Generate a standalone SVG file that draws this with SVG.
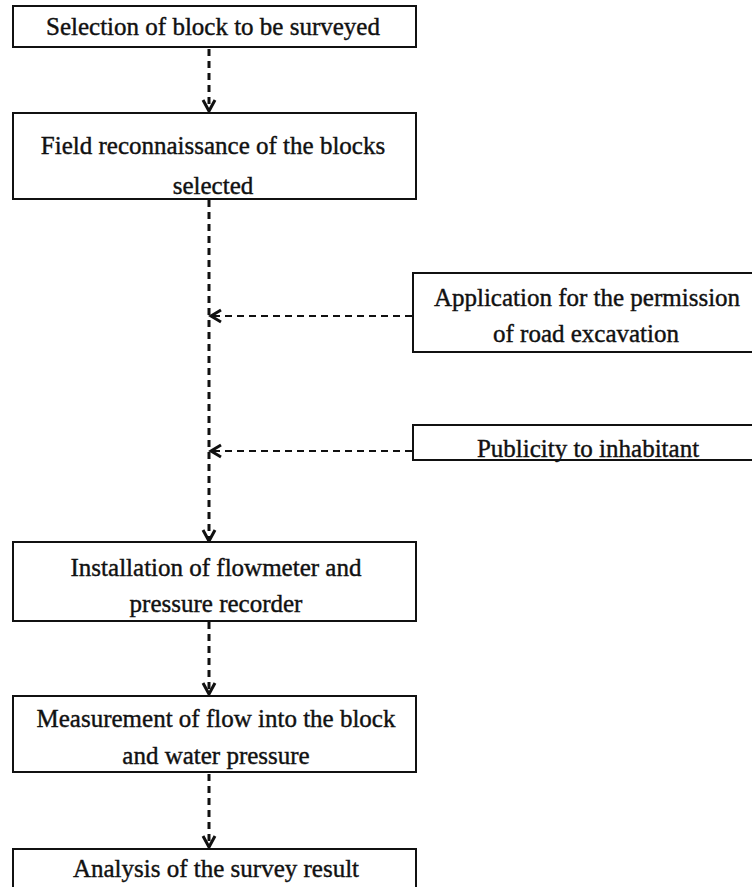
<svg xmlns="http://www.w3.org/2000/svg" width="752" height="887" viewBox="0 0 752 887">
<style>
.box{fill:#fff;stroke:#111;stroke-width:2}
.t{font-family:"Liberation Serif","Times New Roman",serif;font-size:25px;fill:#111;stroke:#111;stroke-width:0.4;text-anchor:middle}
.v{stroke:#111;stroke-width:3;stroke-dasharray:7 5;fill:none}
.h{stroke:#111;stroke-width:2;stroke-dasharray:7 5;fill:none}
.ah{stroke:#111;stroke-width:3;fill:none}
</style>
<rect width="752" height="887" fill="#fff"/>
<g id="connectors">
<line class="v" x1="209" y1="49" x2="209" y2="110"/>
<polyline class="ah" points="203,100 209,111 215,100"/>
<line class="v" x1="209" y1="200" x2="209" y2="541"/>
<polyline class="ah" points="203,530 209,541 215,530"/>
<line class="h" x1="412" y1="316" x2="212" y2="316"/>
<polyline class="ah" points="221,310 211,316 221,322"/>
<line class="h" x1="412" y1="451" x2="212" y2="451"/>
<polyline class="ah" points="221,445 211,451 221,457"/>
<line class="v" x1="209" y1="622" x2="209" y2="694"/>
<polyline class="ah" points="203,683 209,694 215,683"/>
<line class="v" x1="209" y1="774" x2="209" y2="847"/>
<polyline class="ah" points="203,836 209,847 215,836"/>
</g>
<g id="n1"><rect class="box" x="13" y="6" width="403" height="41"/><text class="t" x="213" y="35">Selection of block to be surveyed</text></g>
<g id="n2"><rect class="box" x="13" y="113" width="403" height="86"/><text class="t" x="213" y="154">Field reconnaissance of the blocks</text><text class="t" x="213" y="194">selected</text></g>
<g id="n3"><rect class="box" x="413" y="273" width="350" height="79"/><text class="t" x="587" y="306">Application for the permission</text><text class="t" x="586" y="342">of road excavation</text></g>
<g id="n4"><rect class="box" x="413" y="425" width="350" height="35"/><text class="t" x="588" y="457">Publicity to inhabitant</text></g>
<g id="n5"><rect class="box" x="13" y="542" width="403" height="79"/><text class="t" x="216" y="576">Installation of flowmeter and</text><text class="t" x="216" y="612">pressure recorder</text></g>
<g id="n6"><rect class="box" x="13" y="696" width="403" height="76"/><text class="t" x="216" y="727">Measurement of flow into the block</text><text class="t" x="216" y="764">and water pressure</text></g>
<g id="n7"><rect class="box" x="13" y="849" width="403" height="50"/><text class="t" x="216" y="877">Analysis of the survey result</text></g>
</svg>
